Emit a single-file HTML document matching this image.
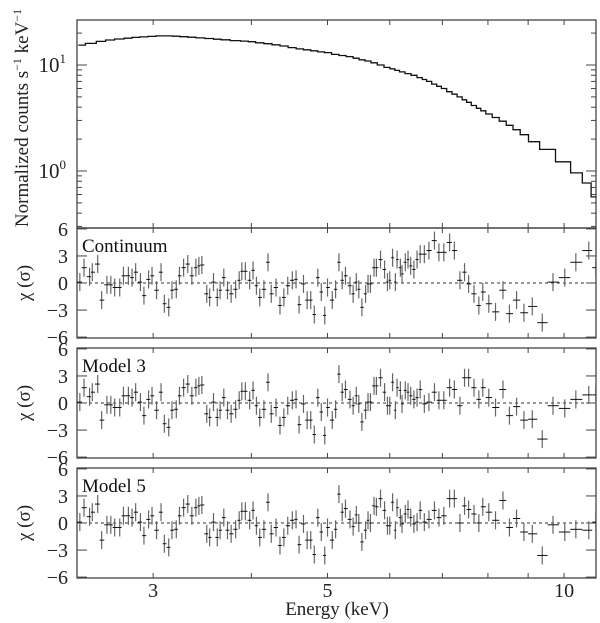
<!DOCTYPE html>
<html><head><meta charset="utf-8">
<style>
html,body{margin:0;padding:0;background:#fff;}
svg{display:block;font-family:"Liberation Serif","DejaVu Serif",serif;}
</style></head>
<body>
<svg id="chart" width="600" height="623" viewBox="0 0 600 623" xmlns="http://www.w3.org/2000/svg">
<g id="layer"></g>
</svg>
<script>
// ---- data ----
const specEnergy = [2.42,2.50,2.58,2.64,2.72,2.79,2.85,2.92,2.99,3.06,
3.14,3.21,3.28,3.36,3.44,3.54,3.62,3.70,3.82,3.93,4.0,
4.10,4.20,4.30,4.40,4.51,4.61,4.71,4.81,4.91,5.0,
5.12,5.22,5.34,5.44,5.53,5.63,5.73,5.84,5.96,6.05,
6.13,6.22,6.33,6.44,6.56,6.64,6.73,6.84,6.93,7.03,
7.15,7.25,7.37,7.47,7.56,7.68,7.79,7.88,8.02,
8.18,8.36,8.52,8.70,8.89,9.13,9.49,10.02,10.37,10.73,10.92];
const specCounts = [15.4,16.0,16.7,17.2,17.6,17.9,18.2,18.4,18.6,18.8,
18.8,18.7,18.5,18.3,18.0,17.8,17.5,17.3,17.0,16.8,16.6,
16.2,15.9,15.5,15.1,14.6,14.2,13.9,13.6,13.3,13.1,
12.6,12.3,12.0,11.6,11.2,10.9,10.5,10.0,9.5,9.2,
8.9,8.6,8.3,8.0,7.6,7.3,7.0,6.6,6.3,6.0,
5.6,5.3,5.0,4.7,4.45,4.15,3.9,3.7,3.45,
3.2,2.95,2.7,2.45,2.2,1.89,1.60,1.22,0.96,0.77,0.57];
const resEnergy = [2.42,2.45,2.49,2.51,2.55,2.58,2.62,2.65,2.68,2.72,2.75,2.79,2.82,2.85,2.89,2.92,2.96,2.99,3.03,3.07,3.10,3.14,3.17,3.21,3.24,3.28,3.32,3.36,3.40,3.43,3.46,3.51,3.54,3.58,3.62,3.65,3.69,3.73,3.77,3.82,3.86,3.89,3.93,3.98,4.02,4.06,4.10,4.15,4.20,4.24,4.30,4.35,4.40,4.45,4.51,4.56,4.60,4.66,4.71,4.76,4.81,4.86,4.91,4.96,5.00,5.07,5.12,
5.17,5.22,5.27,5.34,5.39,5.44,5.48,5.53,5.59,5.63,5.67,5.73,5.77,5.84,5.91,5.96,6.00,6.05,6.10,6.13,6.19,6.22,6.28,6.33,6.38,6.44,6.50,6.56,6.64,6.73,6.84,6.93,7.03,7.15,7.25,7.37,7.47,7.56,7.68,7.79,7.88,8.02,8.18,8.36,8.52,8.70,8.89,9.11,9.38,9.68,10.02,10.35,10.75,10.97];
const resContinuum = [0.1,1.7,0.7,1.2,2.1,-1.9,-0.2,-0.2,-0.5,-0.5,0.8,0.8,0.6,1.2,0.1,-1.4,0.4,0.8,-0.8,1.2,-2.3,-2.7,-0.8,-0.7,0.8,1.7,2.1,0.8,1.7,1.9,2.0,-1.2,-1.6,0.1,-1.6,-0.8,0.6,-0.8,-1.2,-0.7,0.3,1.3,1.3,0.3,1.4,-0.3,-1.6,-0.7,2.3,-1.2,-0.5,-2.5,-1.6,-0.3,0.3,0.4,-2.4,-0.1,-1.9,-1.9,-3.5,0.6,-1.0,-3.6,-0.5,-1.9,-0.7,
2.3,0.3,0.8,-0.3,-1.2,0.1,-0.7,-2.7,-1.2,-0.1,-0.1,1.7,1.7,2.6,1.5,0.1,0.3,2.8,0.1,2.6,1.7,1.0,2.3,2.6,1.9,1.5,2.6,3.2,3.2,3.6,4.7,3.4,3.4,4.5,3.6,0.3,1.2,-0.1,-1.2,-2.5,-1.0,-2.3,-3.2,-0.8,-3.4,-1.9,-3.3,-2.6,-4.4,0.1,0.6,2.3,3.6,1.7];
const resModel3 = [0.1,1.7,0.7,1.2,2.1,-1.9,-0.2,-0.2,-0.5,-0.5,0.8,0.8,0.6,1.2,0.1,-1.4,0.4,0.8,-0.8,1.2,-2.3,-2.7,-0.8,-0.7,0.8,1.7,2.1,0.8,1.7,1.9,2.0,-1.2,-1.6,0.1,-1.6,-0.8,0.6,-0.8,-1.2,-0.7,0.3,1.3,1.3,0.3,1.4,-0.3,-1.6,-0.7,2.3,-1.2,-0.5,-2.5,-1.6,-0.3,0.3,0.4,-2.4,-0.1,-1.9,-1.9,-3.5,0.6,-1.0,-3.6,-0.5,-1.9,-0.7,
3.2,1.2,1.5,0.4,-0.3,0.8,-0.1,-2.1,-0.8,0.1,0.1,1.9,1.9,2.8,1.2,-0.3,-0.3,2.3,-0.8,1.7,1.4,-0.1,1.4,1.2,0.8,0.4,0.6,1.5,-0.1,0.1,1.2,0.3,0.3,1.7,1.5,-0.3,2.8,2.8,1.7,0.4,1.7,0.6,-0.5,1.5,-1.4,-0.4,-1.9,-1.8,-4.0,-0.3,-0.6,0.4,0.9,0.9];
const resModel5 = [0.1,1.7,0.7,1.2,2.1,-1.9,-0.2,-0.2,-0.5,-0.5,0.8,0.8,0.6,1.2,0.1,-1.4,0.4,0.8,-0.8,1.2,-2.3,-2.7,-0.8,-0.7,0.8,1.7,2.1,0.8,1.7,1.9,2.0,-1.2,-1.6,0.1,-1.6,-0.8,0.6,-0.8,-1.2,-0.7,0.3,1.3,1.3,0.3,1.4,-0.3,-1.6,-0.7,2.3,-1.2,-0.5,-2.5,-1.6,-0.3,0.3,0.4,-2.4,-0.1,-1.9,-1.9,-3.5,0.6,-1.0,-3.6,-0.5,-1.9,-0.7,
3.2,1.2,1.6,0.4,-0.4,0.9,0,-2.1,-0.8,0.3,0,1.9,1.8,2.7,1.4,-0.3,-0.3,2.3,-0.8,1.7,0.6,-0.1,1.0,1.5,0.6,-0.1,0.1,1.4,0.1,0.4,1.4,0.6,0.8,2.7,2.7,0,1.9,1.5,1.0,0,1.8,1.2,0.3,2.5,-0.5,0.5,-1.0,-1.2,-3.6,-0.2,-1.0,-0.7,-0.8,0.1];
const xTicks = [3,4,5,6,7,8,9,10];
const xTickLabels = ["3","5","10"];
const resTicks = [6,3,0,-3,-6];

// ---- geometry ----
const NS="http://www.w3.org/2000/svg";
const L=77, R=596;
const Emin=2.40, Emax=10.98;
const X = e => L + (Math.log10(e)-Math.log10(Emin))/(Math.log10(Emax)-Math.log10(Emin))*(R-L);
const topP={t:20,b:228};
const Ytop = v => 171 - Math.log10(v)*106;
const panels=[{t:228,b:338,name:"Continuum",data:resContinuum,key:"continuum"},
              {t:348,b:458,name:"Model 3",data:resModel3,key:"model-3"},
              {t:468,b:578,name:"Model 5",data:resModel5,key:"model-5"}];
const layer=document.getElementById('layer');
function el(tag,attrs,parent){const e=document.createElementNS(NS,tag);for(const k in attrs)e.setAttribute(k,attrs[k]);(parent||layer).appendChild(e);return e;}
const ink="#222";

const topG=el('g',{});


el('rect',{x:L,y:topP.t,width:R-L,height:topP.b-topP.t,fill:'none',stroke:'#444','stroke-width':1.3},topG);
for(let d=-1;d<=1;d++){for(let m=1;m<10;m++){const v=m*Math.pow(10,d);const y=Ytop(v);if(y<topP.t||y>topP.b)continue;const len=m===1?10:5;
 el('line',{x1:L,x2:L+len,y1:y,y2:y,stroke:'#444','stroke-width':1},topG);
 el('line',{x1:R,x2:R-len,y1:y,y2:y,stroke:'#444','stroke-width':1},topG);}}
[[1,65],[0,171]].forEach(([p,y])=>{const t=el('text',{x:66,y:y+7,'font-size':21,'text-anchor':'end',fill:ink},topG);t.textContent='10';
 
 const s=el('tspan',{dy:-9,'font-size':13},t);s.textContent=String(p);});
let d='';
for(let i=0;i<specEnergy.length;i++){
 const lo=i===0?Emin+0.01:Math.sqrt(specEnergy[i-1]*specEnergy[i]);
 const hi=i===specEnergy.length-1?Emax:Math.sqrt(specEnergy[i]*specEnergy[i+1]);
 const y=Ytop(specCounts[i]);
 d+=(i===0?'M':'L')+X(lo).toFixed(1)+','+y.toFixed(1)+'L'+X(hi).toFixed(1)+','+y.toFixed(1);
}
const sp=el('path',{d:d,fill:'none',stroke:'#111','stroke-width':1.3},topG);


xTicks.forEach(e=>{const x=X(e);el('line',{x1:x,x2:x,y1:topP.t,y2:topP.t+5,stroke:'#444'},topG);el('line',{x1:x,x2:x,y1:topP.b,y2:topP.b-5,stroke:'#444'},topG);});
const yt=el('text',{transform:'translate(28,118) rotate(-90)','font-size':19,'text-anchor':'middle',fill:ink});


yt.innerHTML='Normalized counts s<tspan dy="-7" font-size="12">−1</tspan><tspan dy="7"> keV</tspan><tspan dy="-7" font-size="12">−1</tspan>';

panels.forEach(p=>{
 const g=el('g',{});
 
 
 const mid=(p.t+p.b)/2, sc=(p.b-p.t)/12.2;
 const Y=v=>mid-v*sc;
 el('rect',{x:L,y:p.t,width:R-L,height:p.b-p.t,fill:'none',stroke:'#444','stroke-width':1.3},g);
 el('line',{x1:L,x2:R,y1:mid,y2:mid,stroke:'#333','stroke-width':1,'stroke-dasharray':'3,3'},g);
 resTicks.forEach(v=>{const y=Y(v);
  el('line',{x1:L,x2:L+10,y1:y,y2:y,stroke:'#444'},g);el('line',{x1:R,x2:R-10,y1:y,y2:y,stroke:'#444'},g);
  const t=el('text',{x:68,y:y+7,'font-size':20,'text-anchor':'end',fill:ink},g);
  
  
  t.textContent=v<0?'−'+(-v):String(v);});
 xTicks.forEach(e=>{const x=X(e);el('line',{x1:x,x2:x,y1:p.t,y2:p.t+5,stroke:'#444'},g);el('line',{x1:x,x2:x,y1:p.b,y2:p.b-5,stroke:'#444'},g);});
 p.data.forEach((v,i)=>{
  const e=resEnergy[i];
  const lo=i===0?e*0.993:Math.sqrt(resEnergy[i-1]*e);
  const hi=i===resEnergy.length-1?Emax:Math.sqrt(e*resEnergy[i+1]);
  const x=X(e),y=Y(v);
  const pt=el('g',{},g);
  
  
  el('line',{x1:x,x2:x,y1:Y(v+1),y2:Y(v-1),stroke:'#666','stroke-width':1.2},pt);
  el('line',{x1:X(lo),x2:X(hi),y1:y,y2:y,stroke:'#111','stroke-width':1},pt);
 });
 const lab=el('text',{x:82,y:p.t+24,'font-size':19,fill:'#111'},g);
 
 
 lab.textContent=p.name;
 const at=el('text',{transform:'translate(30,'+mid+') rotate(-90)','font-size':19,'text-anchor':'middle',fill:ink},g);
 
 
 at.textContent='χ (σ)';
});
[[3,"3"],[5,"5"],[10,"10"]].forEach(([e,s])=>{const t=el('text',{x:X(e),y:597,'font-size':20,'text-anchor':'middle',fill:ink});
 
 
 t.textContent=s;});
const xt=el('text',{x:337,y:615,'font-size':19,'text-anchor':'middle',fill:ink});


xt.textContent='Energy (keV)';
</script>
</body></html>
